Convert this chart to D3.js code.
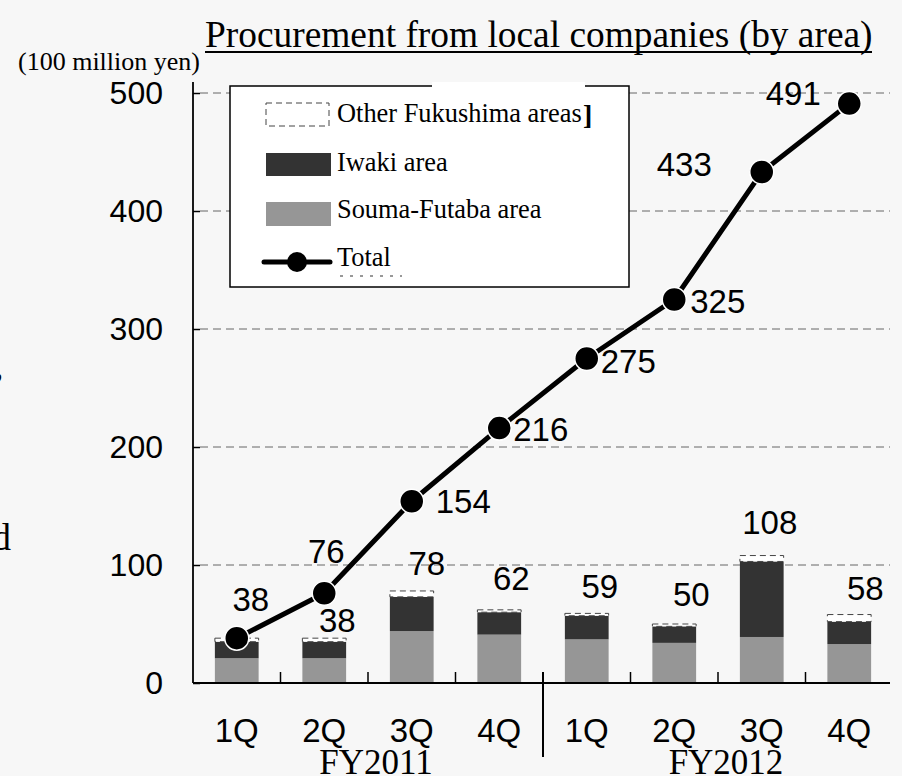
<!DOCTYPE html>
<html>
<head>
<meta charset="utf-8">
<script src="https://cdn.jsdelivr.net/npm/d3@7"></script>
<style>
  html, body { margin: 0; padding: 0; background: #f7f7f7; }
  svg { display: block; }
</style>
</head>
<body>
<svg id="chart" width="902" height="776"></svg>
<script>
// ---- data ----
const quarters = ["1Q", "2Q", "3Q", "4Q", "1Q", "2Q", "3Q", "4Q"];
const years = ["FY2011", "FY2012"];
const soumaFutaba = [21, 21, 44, 41, 37, 34, 39, 33];
const iwaki = [14, 14, 29, 19, 20, 14, 64, 19];
const quarterTotal = [38, 38, 78, 62, 59, 50, 108, 58];
const cumulativeTotal = [38, 76, 154, 216, 275, 325, 433, 491];
const yTicks = [0, 100, 200, 300, 400, 500];
const legendLabels = ["Other Fukushima areas", "Iwaki area", "Souma-Futaba area", "Total"];

// ---- layout (label offsets relative to their marks) ----
const totalLabelOffset = [[14, -27, "middle"], [2, -30, "middle"], [24, 12, "start"], [14, 13, "start"],
                          [14, 14, "start"], [16, 13, "start"], [-50, 4, "end"], [-56, 1, "middle"]];
const barLabelOffset = [null, [13, -6], [15, -16], [12, -20], [13, -15], [17, -18], [8, -22], [16, -15]];

const svg = d3.select("#chart");
const plotLeft = 193, plotRight = 893, plotTop = 93, plotBottom = 683;
const sans = "'Liberation Sans', Arial, sans-serif";
const serif = "'Liberation Serif', 'Times New Roman', serif";

const x = d3.scaleBand().domain(d3.range(8)).range([plotLeft, plotRight]).paddingInner(0.5).paddingOuter(0.25);
const y = d3.scaleLinear().domain([0, 500]).range([plotBottom, plotTop]);
const step = x.step();

// gridlines
svg.append("g").selectAll("line").data(yTicks.filter(d => d > 0)).join("line")
  .attr("x1", plotLeft + 7).attr("x2", 890)
  .attr("y1", d => y(d)).attr("y2", d => y(d))
  .attr("stroke", "#666").attr("stroke-width", 1).attr("stroke-dasharray", "8,5");

// y axis
const yAxis = d3.axisLeft(y).tickValues(yTicks).tickSize(-7).tickPadding(30).tickFormat(d3.format("d"));
const yg = svg.append("g").attr("transform", `translate(${plotLeft},0)`).call(yAxis);
yg.select(".domain").remove();
yg.selectAll(".tick line").attr("stroke", "#000").attr("stroke-width", 1.5);
yg.selectAll(".tick text").attr("font-family", sans).attr("font-size", 32).attr("fill", "#000");
svg.append("line").attr("x1", plotLeft).attr("x2", plotLeft).attr("y1", 82).attr("y2", plotBottom)
  .attr("stroke", "#000").attr("stroke-width", 1.8);

// bars
const stackData = quarters.map((q, i) => ({
  i, souma: soumaFutaba[i], iwaki: iwaki[i], other: quarterTotal[i] - soumaFutaba[i] - iwaki[i]
}));
const series = d3.stack().keys(["souma", "iwaki", "other"])(stackData);
const fills = { souma: "#969696", iwaki: "#333333", other: "#ffffff" };
series.forEach(s => {
  svg.append("g").selectAll("rect").data(s).join("rect")
    .attr("x", d => x(d.data.i)).attr("width", x.bandwidth())
    .attr("y", d => y(d[1])).attr("height", d => y(d[0]) - y(d[1]))
    .attr("fill", fills[s.key])
    .attr("stroke", s.key === "other" ? "#444" : "none")
    .attr("stroke-width", s.key === "other" ? 1 : 0)
    .attr("stroke-dasharray", s.key === "other" ? "6,4" : null);
});

// x axis
svg.append("line").attr("x1", plotLeft).attr("x2", 890).attr("y1", plotBottom).attr("y2", plotBottom)
  .attr("stroke", "#000").attr("stroke-width", 2);
svg.append("g").selectAll("line").data(d3.range(1, 8).filter(i => i !== 4)).join("line")
  .attr("x1", i => x(i) - (step - x.bandwidth()) / 2).attr("x2", i => x(i) - (step - x.bandwidth()) / 2)
  .attr("y1", plotBottom).attr("y2", plotBottom - 11)
  .attr("stroke", "#000").attr("stroke-width", 1.5);
const sepX = x(4) - (step - x.bandwidth()) / 2;
svg.append("line").attr("x1", sepX).attr("x2", sepX).attr("y1", plotBottom - 11).attr("y2", 757)
  .attr("stroke", "#000").attr("stroke-width", 2);
svg.append("g").selectAll("text").data(quarters).join("text")
  .attr("x", (d, i) => x(i) + x.bandwidth() / 2).attr("y", 742)
  .attr("text-anchor", "middle").attr("font-family", sans).attr("font-size", 33).text(d => d);
svg.append("g").selectAll("text").data(years).join("text")
  .attr("x", (d, i) => (x(i * 4) + x(i * 4 + 3) + x.bandwidth()) / 2 + 8).attr("y", 774)
  .attr("text-anchor", "middle").attr("font-family", serif).attr("font-size", 35).text(d => d);

// line
const cx = i => x(i) + x.bandwidth() / 2;
svg.append("path").datum(cumulativeTotal)
  .attr("d", d3.line().x((d, i) => cx(i)).y(d => y(d)))
  .attr("fill", "none").attr("stroke", "#000").attr("stroke-width", 5).attr("stroke-linejoin", "round");
svg.append("g").selectAll("circle").data(cumulativeTotal).join("circle")
  .attr("cx", (d, i) => cx(i)).attr("cy", d => y(d)).attr("r", 12)
  .attr("fill", "#000").attr("stroke", "#fff").attr("stroke-width", 1.5);

// labels
svg.append("g").selectAll("text").data(cumulativeTotal).join("text")
  .attr("x", (d, i) => cx(i) + totalLabelOffset[i][0]).attr("y", (d, i) => y(d) + totalLabelOffset[i][1])
  .attr("text-anchor", (d, i) => totalLabelOffset[i][2])
  .attr("font-family", sans).attr("font-size", 33).text(d => d);
svg.append("g").selectAll("text").data(quarterTotal.map((v, i) => ({ v, i })).filter(d => d.i > 0)).join("text")
  .attr("x", d => cx(d.i) + barLabelOffset[d.i][0]).attr("y", d => y(d.v) + barLabelOffset[d.i][1])
  .attr("text-anchor", "middle").attr("font-family", sans).attr("font-size", 33).text(d => d.v);

// legend
const lg = svg.append("g");
lg.append("rect").attr("x", 230).attr("y", 86).attr("width", 399).attr("height", 201)
  .attr("fill", "#fff").attr("stroke", "#000").attr("stroke-width", 1.5);
lg.append("rect").attr("x", 432).attr("y", 82).attr("width", 153).attr("height", 6).attr("fill", "#fff");
lg.append("rect").attr("x", 266).attr("y", 103).attr("width", 63).attr("height", 23)
  .attr("fill", "#fff").attr("stroke", "#444").attr("stroke-width", 1).attr("stroke-dasharray", "6,4");
lg.append("rect").attr("x", 266).attr("y", 153).attr("width", 65).attr("height", 23).attr("fill", fills.iwaki);
lg.append("rect").attr("x", 266).attr("y", 202).attr("width", 65).attr("height", 24).attr("fill", fills.souma);
lg.append("line").attr("x1", 264).attr("x2", 330).attr("y1", 262).attr("y2", 262)
  .attr("stroke", "#000").attr("stroke-width", 5).attr("stroke-linecap", "round");
lg.append("circle").attr("cx", 297).attr("cy", 262).attr("r", 10).attr("fill", "#000");
lg.selectAll("text.lab").data(legendLabels).join("text").attr("class", "lab")
  .attr("x", 337).attr("y", (d, i) => [122, 171, 218, 266][i])
  .attr("font-family", serif).attr("font-size", 26.4).text(d => d);
lg.append("text").attr("x", 583).attr("y", 124).attr("font-family", serif).attr("font-weight", "bold")
  .attr("font-size", 28).text("]");
lg.append("line").attr("x1", 340).attr("x2", 402).attr("y1", 276).attr("y2", 276)
  .attr("stroke", "#333").attr("stroke-width", 1.2).attr("stroke-dasharray", "3,7");

// title and unit
svg.append("text").attr("x", 205).attr("y", 47).attr("font-family", serif).attr("font-size", 37.4)
  .text("Procurement from local companies (by area)");
svg.append("line").attr("x1", 205).attr("x2", 872).attr("y1", 52).attr("y2", 52)
  .attr("stroke", "#000").attr("stroke-width", 2);
svg.append("text").attr("x", 18).attr("y", 70).attr("font-family", serif).attr("font-size", 26)
  .text("(100 million yen)");

// fragments of neighbouring text at the left edge
svg.append("text").attr("x", -8).attr("y", 550).attr("font-family", serif).attr("font-size", 38).text("d");
svg.append("text").attr("x", -6).attr("y", 378).attr("font-family", serif).attr("font-size", 38).text(",");
</script>
</body>
</html>
